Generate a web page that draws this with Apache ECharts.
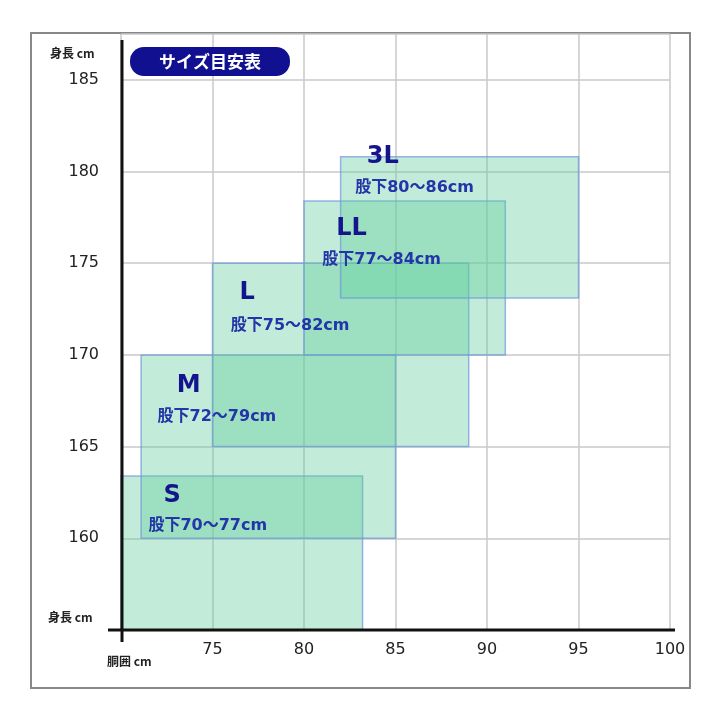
<!DOCTYPE html><html><head><meta charset="utf-8"><script src="https://cdn.jsdelivr.net/npm/echarts@6/dist/echarts.min.js"></script></head><body style="margin:0;background:#fff"><div id="c" style="width:720px;height:720px"></div><script>
const sizes=['S','M','L','LL','3L'];
const inseams=['股下70～77cm','股下72～79cm','股下75～82cm','股下77～84cm','股下80～86cm'];
const waistMin=[70,71.1,75,80,82];
const waistMax=[83.2,85,89,91,95];
const heightMin=[155,160,165,170,173.1];
const heightMax=[163.4,170,175,178.4,180.8];
const titleX=[72.8,73.7,76.9,82.6,84.3], titleY=[162.3,168.3,173.4,176.9,180.8];
const subX=[71.5,72,76,81,82.8], subY=[160.7,166.6,171.6,175.2,179.1];
const xTicks=[75,80,85,90,95,100], yTicks=[160,165,170,175,180,185];
const rects=sizes.map((s,i)=>[waistMin[i],heightMin[i],waistMax[i],heightMax[i]]);
const labels=sizes.map((s,i)=>[titleX[i],titleY[i],subX[i],subY[i],i]);
const ch=echarts.init(document.getElementById('c'));
const F='"DejaVu Sans","Noto Sans CJK JP",sans-serif';
ch.setOption({animation:false,
grid:{left:121,right:50,top:34,bottom:90},
xAxis:{type:'value',min:70,max:100,interval:5,axisLine:{show:false},axisTick:{show:false},
 splitLine:{lineStyle:{color:'#c8c8c8',width:1.5}},
 axisLabel:{margin:12,fontSize:16,color:'#222',fontFamily:F,formatter:v=>xTicks.includes(v)?String(v):''}},
yAxis:{type:'value',min:155,max:187.5,interval:5,axisLine:{show:false},axisTick:{show:false},
 splitLine:{lineStyle:{color:'#c8c8c8',width:1.5}},
 axisLabel:{margin:22,fontSize:16,color:'#222',fontFamily:F,formatter:v=>yTicks.includes(v)?String(v):''}},
series:[{type:'custom',data:rects,renderItem:(p,api)=>{
 const a=api.coord([api.value(0),api.value(3)]),b=api.coord([api.value(2),api.value(1)]);
 return {type:'rect',shape:{x:a[0],y:a[1],width:b[0]-a[0],height:b[1]-a[1]},style:{fill:'rgba(95,205,155,0.38)',stroke:'rgba(110,150,220,0.7)',lineWidth:1.5}};}},
 {type:'custom',z:10,data:labels,renderItem:(p,api)=>{
 const t=api.coord([api.value(0),api.value(1)]),s=api.coord([api.value(2),api.value(3)]);
 const i=api.value(4);
 return {type:'group',children:[
  {type:'text',style:{x:t[0],y:t[1],text:sizes[i],fill:'#14148c',font:'bold 24px '+F,textAlign:'center',textVerticalAlign:'middle'}},
  {type:'text',style:{x:s[0],y:s[1],text:inseams[i],fill:'#2335a8',font:'bold 16px '+F,textAlign:'left',textVerticalAlign:'middle'}}
 ]};}}],
graphic:[
 {type:'rect',shape:{x:31,y:33,width:659,height:655},style:{fill:'none',stroke:'#888',lineWidth:2},z:-1},
 {type:'line',shape:{x1:122,y1:40,x2:122,y2:642},style:{stroke:'#111',lineWidth:3},z:100},
 {type:'line',shape:{x1:108,y1:630,x2:675,y2:630},style:{stroke:'#111',lineWidth:3},z:100},
 {type:'rect',shape:{x:130,y:47,width:160,height:29,r:14},style:{fill:'#101090'},z:100},
 {type:'text',style:{x:210,y:62,text:'サイズ目安表',fill:'#fff',font:'bold 17px "Noto Sans CJK JP"',textAlign:'center',textVerticalAlign:'middle'},z:101},
 {type:'text',style:{x:50,y:53,text:'身長 cm',fill:'#222',font:'bold 12px "Noto Sans CJK JP"',textVerticalAlign:'middle'}},
 {type:'text',style:{x:48,y:617,text:'身長 cm',fill:'#222',font:'bold 12px "Noto Sans CJK JP"',textVerticalAlign:'middle'}},
 {type:'text',style:{x:107,y:661,text:'胴囲 cm',fill:'#222',font:'bold 12px "Noto Sans CJK JP"',textVerticalAlign:'middle'}}
]});
</script></body></html>
